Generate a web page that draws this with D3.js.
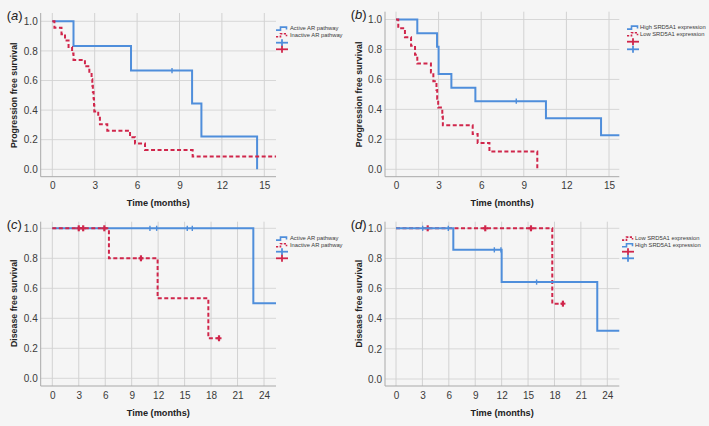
<!DOCTYPE html>
<html>
<head>
<meta charset="utf-8">
<script src="https://cdn.jsdelivr.net/npm/d3@7"></script>
<style>
  html, body { margin: 0; padding: 0; background: #f5f5f5; }
  svg { display: block; font-family: "Liberation Sans", Arial, sans-serif; }
</style>
</head>
<body>
<svg id="chart" width="709" height="426"></svg>
<script>
// ---------------- DATA ----------------
const pfsTicksX = [0, 3, 6, 9, 12, 15];
const dfsTicksX = [0, 3, 6, 9, 12, 15, 18, 21, 24];
const yTicks = [0, 0.2, 0.4, 0.6, 0.8, 1.0];

// (a) PFS by AR pathway
const aActiveTimes = [0, 1.5, 5.57, 9.89, 10.55, 14.49];
const aActiveSurv  = [1, 0.833, 0.667, 0.444, 0.222, 0];
const aActiveCens  = [8.47];
const aInactiveTimes = [0, 0.15, 0.65, 0.9, 1.15, 1.4, 1.5, 2.31, 2.62, 2.78, 2.83, 2.87, 2.92, 2.95, 2.97, 3.25, 3.37, 3.89, 5.5, 5.85, 6.56, 9.93];
const aInactiveSurv  = [1, 0.957, 0.913, 0.870, 0.826, 0.783, 0.739, 0.696, 0.652, 0.609, 0.565, 0.522, 0.478, 0.435, 0.391, 0.348, 0.304, 0.261, 0.217, 0.174, 0.130, 0.087];
const aInactiveEnd = 15.83;

// (b) PFS by SRD5A1 expression
const bHighTimes = [0, 1.5, 2.89, 3.0, 3.9, 5.59, 10.56, 14.44];
const bHighSurv  = [1, 0.909, 0.818, 0.636, 0.545, 0.455, 0.341, 0.227];
const bHighCens  = [8.47];
const bHighEnd = 15.73;
const bLowTimes = [0, 0.16, 0.63, 1.06, 1.34, 1.5, 2.46, 2.63, 2.85, 2.9, 2.97, 3.26, 3.3, 5.4, 5.75, 6.58, 9.95];
const bLowSurv  = [1, 0.941, 0.882, 0.824, 0.765, 0.706, 0.647, 0.588, 0.529, 0.471, 0.412, 0.353, 0.294, 0.235, 0.176, 0.118, 0];

// (c) DFS by AR pathway
const cActiveTimes = [0, 22.79];
const cActiveSurv  = [1, 0.5];
const cActiveCens  = [11.07, 11.83, 15.3, 15.87];
const cActiveEnd = 25.36;
const cInactiveTimes = [0, 6.42, 11.94, 17.69];
const cInactiveSurv  = [1, 0.8, 0.533, 0.267];
const cInactiveCens  = [3.0, 3.5, 5.9, 10.05, 18.9];
const cInactiveEnd = 18.9;

// (d) DFS by SRD5A1 expression
const dLowTimes = [0, 17.75];
const dLowSurv  = [1, 0.5];
const dLowCens  = [3.6, 10.14, 15.33, 18.96];
const dLowEnd = 18.96;
const dHighTimes = [0, 6.51, 12.0, 22.86];
const dHighSurv  = [1, 0.857, 0.643, 0.321];
const dHighCens  = [3.03, 5.94, 11.17, 11.92, 15.97];
const dHighEnd = 25.36;

const labelsAR = ["Active AR pathway", "Inactive AR pathway"];
const labelsSRD = ["High SRD5A1 expression", "Low SRD5A1 expression"];

// ---------------- STYLE / LAYOUT ----------------
const BLUE = "#4f8edb";
const RED = "#d0264b";

const svg = d3.select("#chart");

const panels = [
  { tag: "a", lx: 6.7, ly: 19.5, left: 40.7, right: 276, top: 13, bottom: 176.7,
    xr: [52.3, 264.3], xd: [0, 15], yr: [169.3, 21.3], xticks: pfsTicksX,
    ytitle: "Progression free survival", ytx: 14,
    curves: [
      { color: BLUE, dash: null, times: aActiveTimes, surv: aActiveSurv, end: null, cens: aActiveCens },
      { color: RED, dash: "4,2.5", times: aInactiveTimes, surv: aInactiveSurv, end: aInactiveEnd, cens: [] }
    ],
    legend: { ix: 276, tx: 290, rows: [28.3, 35, 42.7, 49.3],
      items: [{ t: labelsAR[0], c: BLUE, d: null }, { t: labelsAR[1], c: RED, d: "2.2,1.4" }],
      plus: [BLUE, RED] } },
  { tag: "b", lx: 350.7, ly: 19, left: 385, right: 619.3, top: 11.7, bottom: 176.7,
    xr: [396, 609], xd: [0, 15], yr: [169.3, 19.5], xticks: pfsTicksX,
    ytitle: "Progression free survival", ytx: 359,
    curves: [
      { color: BLUE, dash: null, times: bHighTimes, surv: bHighSurv, end: bHighEnd, cens: bHighCens },
      { color: RED, dash: "4,2.5", times: bLowTimes, surv: bLowSurv, end: null, cens: [] }
    ],
    legend: { ix: 627, tx: 640, rows: [27.3, 34, 41.7, 49.3],
      items: [{ t: labelsSRD[0], c: BLUE, d: null }, { t: labelsSRD[1], c: RED, d: "2.2,1.4" }],
      plus: [RED, BLUE] } },
  { tag: "c", lx: 6.7, ly: 228.5, left: 40.7, right: 276, top: 221.7, bottom: 386,
    xr: [52.3, 264], xd: [0, 24], yr: [378.3, 228.3], xticks: dfsTicksX,
    ytitle: "Disease free survival", ytx: 14,
    curves: [
      { color: BLUE, dash: null, times: cActiveTimes, surv: cActiveSurv, end: cActiveEnd, cens: cActiveCens },
      { color: RED, dash: "4,2.5", times: cInactiveTimes, surv: cInactiveSurv, end: cInactiveEnd, cens: cInactiveCens }
    ],
    legend: { ix: 276, tx: 290, rows: [238.3, 245, 251.7, 258.3],
      items: [{ t: labelsAR[0], c: BLUE, d: null }, { t: labelsAR[1], c: RED, d: "2.2,1.4" }],
      plus: [BLUE, RED] } },
  { tag: "d", lx: 350.7, ly: 228.5, left: 385, right: 619.3, top: 221.7, bottom: 386,
    xr: [396, 607.3], xd: [0, 24], yr: [379, 228.3], xticks: dfsTicksX,
    ytitle: "Disease free survival", ytx: 359,
    curves: [
      { color: RED, dash: "4,2.5", times: dLowTimes, surv: dLowSurv, end: dLowEnd, cens: dLowCens },
      { color: BLUE, dash: null, times: dHighTimes, surv: dHighSurv, end: dHighEnd, cens: dHighCens }
    ],
    legend: { ix: 622, tx: 635, rows: [238.3, 245, 251.7, 258.3],
      items: [{ t: labelsSRD[1], c: RED, d: "2.2,1.4" }, { t: labelsSRD[0], c: BLUE, d: null }],
      plus: [RED, BLUE] } }
];

function survAt(times, surv, t) {
  let v = surv[0];
  for (let i = 0; i < times.length; i++) if (times[i] <= t) v = surv[i];
  return v;
}

panels.forEach(p => {
  const g = svg.append("g");
  const x = d3.scaleLinear().domain(p.xd).range(p.xr);
  const y = d3.scaleLinear().domain([0, 1]).range(p.yr);

  // grid
  g.append("g").selectAll("line").data(yTicks).join("line")
    .attr("x1", p.left).attr("x2", p.right)
    .attr("y1", d => y(d)).attr("y2", d => y(d))
    .attr("stroke", "#d7d7d7").attr("stroke-width", 1);
  g.append("g").selectAll("line").data(p.xticks).join("line")
    .attr("x1", d => x(d)).attr("x2", d => x(d))
    .attr("y1", p.top).attr("y2", p.bottom)
    .attr("stroke", "#d2d2d2").attr("stroke-width", 1);

  // axes lines
  g.append("line").attr("x1", p.left).attr("x2", p.left).attr("y1", p.top).attr("y2", p.bottom)
    .attr("stroke", "#a9a9a9").attr("stroke-width", 1);
  g.append("line").attr("x1", p.left).attr("x2", p.right).attr("y1", p.bottom).attr("y2", p.bottom)
    .attr("stroke", "#a9a9a9").attr("stroke-width", 1);

  // tick labels via d3 axes
  const ax = g.append("g").attr("transform", `translate(0,${p.bottom})`)
    .call(d3.axisBottom(x).tickValues(p.xticks).tickSize(0).tickPadding(5.5).tickFormat(d3.format("d")));
  const ay = g.append("g").attr("transform", `translate(${p.left},0)`)
    .call(d3.axisLeft(y).tickValues(yTicks).tickSize(0).tickPadding(3).tickFormat(d3.format(".1f")));
  [ax, ay].forEach(a => {
    a.select(".domain").remove();
    a.selectAll("text").attr("font-size", 10).attr("fill", "#3a3a3a")
      .attr("font-family", "'Liberation Sans', Arial, sans-serif");
  });

  // axis titles
  g.append("text").attr("x", (p.left + p.right) / 2).attr("y", p.bottom + 29.5)
    .attr("text-anchor", "middle").attr("font-size", 9.2).attr("font-weight", "bold")
    .attr("fill", "#222").text("Time (months)");
  const ymid = (p.yr[0] + p.yr[1]) / 2;
  g.append("text").attr("transform", `translate(${p.ytx},${ymid}) rotate(-90)`)
    .attr("dy", "0.35em").attr("text-anchor", "middle").attr("font-size", 8.8)
    .attr("font-weight", "bold").attr("fill", "#222").text(p.ytitle);

  // panel label
  const lt = g.append("text").attr("x", p.lx).attr("y", p.ly).attr("font-size", 13).attr("fill", "#222");
  lt.append("tspan").text("(");
  lt.append("tspan").attr("font-style", "italic").text(p.tag);
  lt.append("tspan").text(")");

  // curves
  const line = d3.line().x(d => x(d[0])).y(d => y(d[1])).curve(d3.curveStepAfter);
  p.curves.forEach(c => {
    const pts = c.times.map((t, i) => [t, c.surv[i]]);
    if (c.end != null) pts.push([c.end, c.surv[c.surv.length - 1]]);
    g.append("path").attr("d", line(pts)).attr("fill", "none")
      .attr("stroke", c.color).attr("stroke-width", 2)
      .attr("stroke-dasharray", c.dash);
    const isRed = c.color === RED;
    c.cens.forEach(t => {
      const cx = x(t), cy = y(survAt(c.times, c.surv, t));
      g.append("line").attr("x1", cx).attr("x2", cx).attr("y1", cy - (isRed ? 3 : 2.6)).attr("y2", cy + (isRed ? 3 : 2.6))
        .attr("stroke", c.color).attr("stroke-width", isRed ? 2.2 : 1.4);
      if (isRed) {
        g.append("line").attr("x1", cx - 2.5).attr("x2", cx + 2.5).attr("y1", cy).attr("y2", cy)
          .attr("stroke", c.color).attr("stroke-width", 2);
      }
    });
  });

  // legend
  const L = p.legend;
  L.items.forEach((it, i) => {
    const yy = L.rows[i];
    g.append("path")
      .attr("d", `M${L.ix},${yy + 1.8} H${L.ix + 4.5} V${yy - 1.2} H${L.ix + 10.5} V${yy + 1.2}`)
      .attr("fill", "none").attr("stroke", it.c).attr("stroke-width", 1.6)
      .attr("stroke-dasharray", it.d);
    g.append("text").attr("x", L.tx).attr("y", yy).attr("dy", "0.35em")
      .attr("font-size", 5.8).attr("fill", "#3a3a3a").text(it.t);
  });
  L.plus.forEach((col, i) => {
    const yy = L.rows[2 + i];
    const cx = L.ix + 6;
    g.append("line").attr("x1", cx - 6).attr("x2", cx + 6).attr("y1", yy).attr("y2", yy)
      .attr("stroke", col).attr("stroke-width", 1.8);
    g.append("line").attr("x1", cx).attr("x2", cx).attr("y1", yy - 3.5).attr("y2", yy + 3.5)
      .attr("stroke", col).attr("stroke-width", 1.8);
  });
});
</script>
</body>
</html>
